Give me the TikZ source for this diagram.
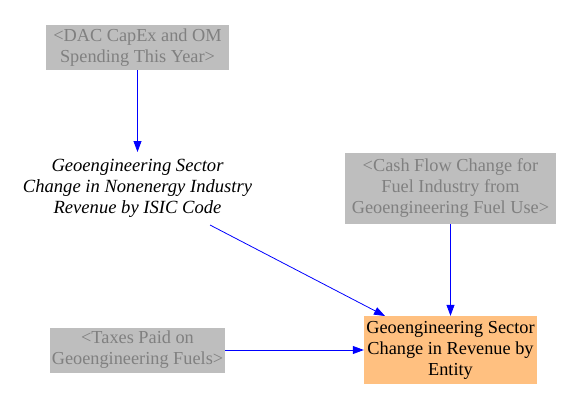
\documentclass[tikz,border=0pt]{standalone}
\usepackage{fontspec}
\setmainfont{Liberation Serif}
\newfontfamily\dfont{Liberation Serif}
\usetikzlibrary{arrows.meta}
\definecolor{shadow}{HTML}{BEBEBE}
\definecolor{shadowtext}{HTML}{808080}
\definecolor{target}{HTML}{FFC080}
\definecolor{link}{HTML}{0000FF}
\begin{document}
\begin{tikzpicture}[x=1pt,y=-1pt,
  every node/.style={font=\dfont\fontsize{18.3}{21}\selectfont, align=center, inner sep=0pt},
  ghost/.style={fill=shadow, text=shadowtext},
  auxvar/.style={font=\dfont\fontsize{18.6}{21}\selectfont\itshape},
  outbox/.style={fill=target, text=black},
  link/.style={draw=link, line width=0.8pt, -{Triangle[length=11pt,width=8pt]}}]
\useasboundingbox (0,0) rectangle (582,405);
\node[ghost, minimum width=183pt, minimum height=45pt] (dac) at (137.5,47.5) {<DAC CapEx and OM\\Spending This Year>};
\node[auxvar] (non) at (137.5,188) {Geoengineering Sector\\Change in Nonenergy Industry\\Revenue by ISIC Code};
\node[ghost, minimum width=211pt, minimum height=71pt] (cash) at (450.5,188.5) {<Cash Flow Change for\\Fuel Industry from\\Geoengineering Fuel Use>};
\node[ghost, minimum width=175pt, minimum height=45pt] (tax) at (137.5,350) {<Taxes Paid on\\Geoengineering Fuels>};
\node[outbox, minimum width=173pt, minimum height=68pt] (rev) at (450.5,350) {Geoengineering Sector\\Change in Revenue by\\Entity};
\coordinate (nonout) at (210,225);
\coordinate (revin) at (385,316);
\draw[link] (dac.south) -- (137.5,152);
\draw[link] (nonout) -- (revin);
\draw[link] (cash.south) -- (rev.north);
\draw[link] (tax.east) -- (rev.west);
\end{tikzpicture}
\end{document}
